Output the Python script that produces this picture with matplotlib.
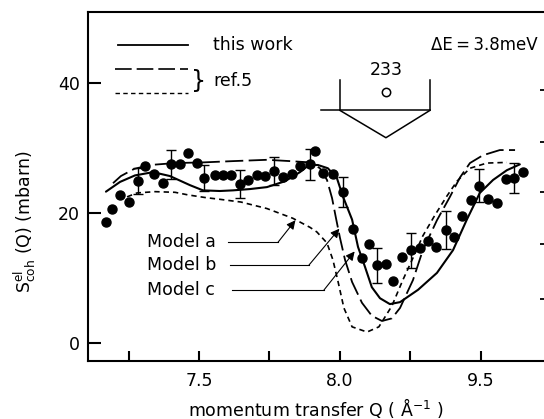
import matplotlib
matplotlib.use('Agg')
import matplotlib.pyplot as plt
import numpy as np

plt.rcParams['font.family'] = ['DejaVu Sans']
plt.rcParams['mathtext.fontset'] = 'dejavusans'

# ---- measured data points (Q in 1/Angstrom, S in mbarn) ----
q_data = [7.170, 7.191, 7.220, 7.252, 7.284, 7.309, 7.340, 7.372, 7.401, 7.433,
          7.461, 7.493, 7.518, 7.557, 7.585, 7.613, 7.645, 7.674, 7.706, 7.734,
          7.766, 7.798, 7.830, 7.858, 7.894, 7.911, 7.940, 7.975, 8.011, 8.046,
          8.078, 8.103, 8.131, 8.163, 8.188, 8.220, 8.252, 8.284, 8.312, 8.340,
          8.376, 8.404, 8.433, 8.465, 8.493, 8.525, 8.557, 8.589, 8.617, 8.649]
s_data = [18.6, 20.6, 22.8, 21.7, 24.9, 27.2, 26.0, 24.6, 27.5, 27.5,
          29.2, 27.7, 25.4, 25.8, 25.8, 25.8, 24.5, 25.1, 25.8, 25.7,
          26.5, 25.5, 26.0, 27.2, 27.5, 29.5, 26.2, 26.0, 23.2, 17.5,
          13.1, 15.2, 12.0, 12.2, 9.5, 13.2, 14.3, 14.6, 15.7, 14.8,
          17.4, 16.3, 19.5, 22.0, 24.2, 22.2, 21.5, 25.2, 25.4, 26.3]
err_data = [0, 0, 0, 0, 2.0, 0, 0, 0, 2.2, 0,
            0, 0, 2.0, 0, 0, 0, 2.2, 0, 0, 0,
            2.1, 0, 0, 0, 2.4, 0, 0, 0, 2.3, 0,
            0, 0, 2.7, 0, 0, 0, 2.7, 0, 0, 0,
            2.85, 0, 0, 0, 2.55, 0, 0, 0, 2.3, 0]

# ---- this work (solid) ----
q_this = [7.170, 7.220, 7.273, 7.337, 7.397, 7.468, 7.514, 7.574, 7.621, 7.681,
          7.741, 7.805, 7.858, 7.890, 7.922, 7.957, 7.989, 8.011, 8.043, 8.064,
          8.089, 8.113, 8.142, 8.177, 8.213, 8.277, 8.344, 8.401, 8.450, 8.496,
          8.543, 8.592, 8.638]
s_this = [23.3, 24.8, 25.8, 26.3, 25.7, 24.3, 23.5, 23.4, 23.5, 23.7,
          24.0, 24.9, 26.3, 27.4, 27.4, 26.9, 25.4, 22.5, 19.0, 14.8,
          11.7, 8.6, 6.9, 6.0, 6.3, 8.2, 10.8, 14.3, 19.0, 23.1,
          25.1, 26.6, 27.5]

# ---- ref.5, model b (long dashes) ----
q_b = [7.195, 7.223, 7.270, 7.326, 7.415, 7.514, 7.621, 7.741, 7.823, 7.894,
       7.929, 7.954, 7.972, 7.986, 8.000, 8.018, 8.043, 8.078, 8.113, 8.149,
       8.184, 8.213, 8.259, 8.294, 8.344, 8.390, 8.426, 8.461, 8.507, 8.567, 8.621]
s_b = [24.6, 25.7, 26.8, 27.4, 27.7, 27.8, 28.0, 28.2, 28.0, 27.8,
       26.9, 25.1, 22.3, 19.2, 16.2, 12.8, 9.4, 6.2, 4.2, 3.4,
       3.8, 5.4, 9.7, 14.3, 18.9, 22.5, 25.5, 27.7, 28.9, 29.7, 29.7]

# ---- ref.5, model a (short dashes) ----
q_a = [7.245, 7.280, 7.344, 7.415, 7.461, 7.521, 7.578, 7.649, 7.741, 7.833,
       7.894, 7.918, 7.954, 7.975, 7.993, 8.014, 8.043, 8.096, 8.138, 8.184,
       8.223, 8.259, 8.294, 8.337, 8.379, 8.415, 8.461, 8.521, 8.592]
s_a = [22.5, 23.1, 23.3, 23.2, 22.8, 22.4, 22.1, 21.7, 20.7, 19.2,
       17.8, 17.1, 15.4, 12.8, 9.5, 5.4, 2.5, 1.7, 2.5, 5.7,
       9.7, 13.1, 16.5, 19.7, 22.6, 24.9, 26.9, 27.7, 27.8]

x_ticks = [7.25, 7.5, 7.75, 8.0, 8.25, 8.5]
x_ticklabels = ['', '7.5', '', '8.0', '', '9.5']
y_ticks = [0, 20, 40]
y_ticklabels = ['0', '20', '40']
right_ticks = [6.8, 15.3, 23.2, 31.0, 39.0]

FS = 12.5

fig = plt.figure(figsize=(5.44, 4.19), dpi=100)
ax = fig.add_axes([0.1618, 0.139, 0.848, 0.832])
ax.set_xlim(7.1064, 8.7426)
ax.set_ylim(-2.72, 50.92)

for side in ['left', 'bottom', 'top', 'right']:
    ax.spines[side].set_linewidth(1.5)

ax.set_xticks(x_ticks)
ax.set_xticklabels(x_ticklabels)
ax.set_yticks(y_ticks)
ax.set_yticklabels(y_ticklabels)
ax.tick_params(axis='x', direction='in', length=7.5, width=1.5, pad=8, labelsize=FS)
ax.tick_params(axis='y', direction='in', length=9, width=1.5, pad=6, labelsize=FS)

ax2 = ax.twinx()
ax2.set_ylim(ax.get_ylim())
ax2.set_yticks(right_ticks)
ax2.tick_params(axis='y', direction='in', length=6.5, width=1.3, labelright=False)
for side in ['left', 'bottom', 'top', 'right']:
    ax2.spines[side].set_visible(False)

# curves
ax.plot(q_this, s_this, color='black', lw=1.5, solid_capstyle='round')
lb, = ax.plot(q_b, s_b, color='black', lw=1.3)
lb.set_dashes((10, 3))
la, = ax.plot(q_a, s_a, color='black', lw=1.2)
la.set_dashes((3.2, 2.4))

# data points
ax.plot(q_data, s_data, 'o', color='black', ms=6.5, zorder=5)
q_e = [q for q, e in zip(q_data, err_data) if e > 0]
s_e = [s for s, e in zip(s_data, err_data) if e > 0]
e_e = [e for e in err_data if e > 0]
ax.errorbar(q_e, s_e, yerr=e_e, fmt='none', ecolor='black', elinewidth=1.0,
            capsize=3.5, capthick=1.0, zorder=4)

# legend (hand drawn as in the original)
ax.plot([7.213, 7.461], [45.8, 45.8], color='black', lw=1.3)
l1, = ax.plot([7.202, 7.461], [42.2, 42.2], color='black', lw=1.2)
l1.set_dashes((10, 3))
l2, = ax.plot([7.202, 7.461], [38.5, 38.5], color='black', lw=1.0)
l2.set_dashes((3.2, 2.4))
ax.text(7.550, 45.8, 'this work', fontsize=FS, va='center', ha='left')
ax.text(7.472, 40.3, '}', fontsize=17, va='center', ha='left')
ax.text(7.550, 40.3, 'ref.5', fontsize=FS, va='center', ha='left')
ax.text(8.322, 45.8, 'ΔE\u2009=\u20093.8meV', fontsize=12, va='center', ha='left')

# reflection marker 233
ax.text(8.163, 42.0, '233', fontsize=FS, va='center', ha='center')
ax.plot([8.163], [38.6], 'o', mfc='white', mec='black', ms=6, mew=1.1)
ax.plot([8.0, 8.0], [40.5, 35.8], color='black', lw=1.1)
ax.plot([8.319, 8.319], [40.5, 35.8], color='black', lw=1.1)
ax.plot([7.933, 8.319], [35.8, 35.8], color='black', lw=1.1)
ax.plot([8.0, 8.163, 8.319], [35.8, 31.6, 35.8], color='black', lw=1.1)

# model labels with leader arrows
models = ['Model a', 'Model b', 'Model c']
label_y = [15.5, 12.0, 8.15]
line_start = [7.603, 7.610, 7.617]
corner_x = [7.780, 7.890, 7.943]
head = [(7.842, 18.9), (7.998, 17.6), (8.052, 14.1)]
for name, y, x0, xc, hd in zip(models, label_y, line_start, corner_x, head):
    ax.text(7.316, y, name, fontsize=FS, va='center', ha='left')
    ax.plot([x0, xc], [y, y], color='black', lw=0.8)
    ax.annotate('', xy=hd, xytext=(xc, y),
                arrowprops=dict(arrowstyle='-|>', color='black', lw=0.8,
                                mutation_scale=13, shrinkA=0, shrinkB=0))

fig.text(25 / 544, 1 - 222 / 419, r'$\mathrm{S}^{\rm el}_{\rm coh}$ (Q) (mbarn)',
         rotation=90, fontsize=FS, ha='center', va='center')
fig.text(316 / 544, 1 - 408 / 419, r'momentum transfer Q ( $\rm\AA^{-1}$ )',
         fontsize=FS, ha='center', va='center')

fig.savefig('out.png', dpi=100)
